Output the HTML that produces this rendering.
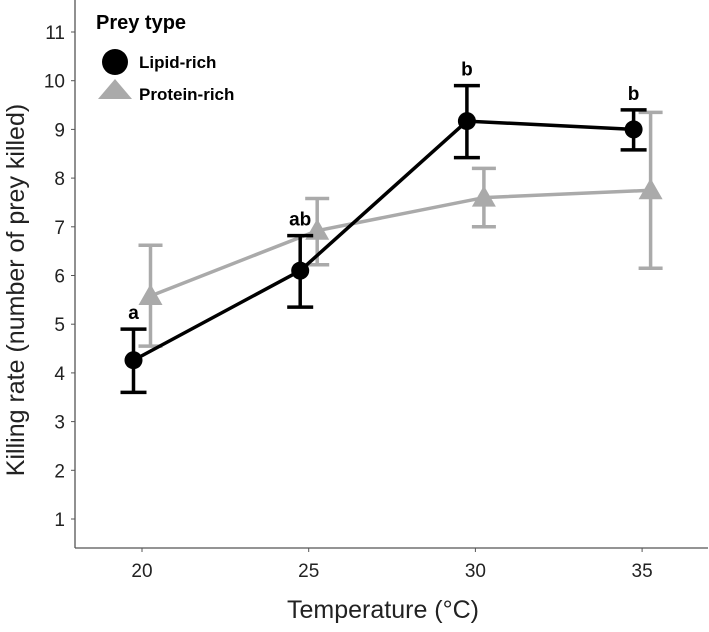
<!DOCTYPE html>
<html><head><meta charset="utf-8"><style>
body{margin:0;background:#fff;}
svg{display:block;font-family:"Liberation Sans",Arial,sans-serif;}
</style></head><body>
<svg id="chart" width="709" height="632">
<g id="axes"></g><g id="marks"></g><g id="legend"></g>
</svg>
<script>
const categories=[20,25,30,35];
const yTicks=[1,2,3,4,5,6,7,8,9,10,11];
const lipidMean=[4.26,6.1,9.17,9.0];
const lipidLow=[3.6,5.35,8.42,8.58];
const lipidHigh=[4.9,6.82,9.9,9.4];
const proteinMean=[5.58,6.92,7.6,7.75];
const proteinLow=[4.55,6.22,7.0,6.15];
const proteinHigh=[6.62,7.58,8.2,9.35];
const letters=["a","ab","b","b"];

const NS="http://www.w3.org/2000/svg";
function x(i){return 142+166.7*i;}
function y(v){return 519-48.7*(v-1);}
function mk(tag,at,parent,txt){const e=document.createElementNS(NS,tag);for(const k in at)e.setAttribute(k,at[k]);if(txt!==undefined)e.textContent=txt;parent.appendChild(e);return e;}
const axes=document.getElementById('axes'),marks=document.getElementById('marks'),legend=document.getElementById('legend');
let e;
e=mk('line',{x1:75,y1:0,x2:75,y2:548,stroke:'#555','stroke-width':1.3},axes);


e=mk('line',{x1:75,y1:548,x2:708,y2:548,stroke:'#555','stroke-width':1.3},axes);


yTicks.forEach(v=>{
 mk('line',{x1:71,y1:y(v),x2:75,y2:y(v),stroke:'#555'},axes);
 e=mk('text',{x:65,y:y(v)+7,'text-anchor':'end','font-size':19,fill:'#222'},axes,v);
 
 
});
categories.forEach((c,i)=>{
 mk('line',{x1:x(i),y1:548,x2:x(i),y2:552,stroke:'#555'},axes);
 e=mk('text',{x:x(i),y:577,'text-anchor':'middle','font-size':19,fill:'#222'},axes,c);
 
 
});
e=mk('text',{x:383,y:618,'text-anchor':'middle','font-size':25,fill:'#222'},axes,'Temperature (°C)');


e=mk('text',{x:0,y:0,transform:'translate(24,290) rotate(-90)','text-anchor':'middle','font-size':25,fill:'#222'},axes,'Killing rate (number of prey killed)');



function series(mean,lo,hi,off,col,name,tri,cap){
 const pts=mean.map((m,i)=>(x(i)+off)+','+y(m)).join(' ');
 e=mk('polyline',{points:pts,fill:'none',stroke:col,'stroke-width':3.5},marks);
 
 
 mean.forEach((m,i)=>{
  const cx=x(i)+off;
  const g=mk('g',{},marks);
  
  
  mk('line',{x1:cx,y1:y(lo[i]),x2:cx,y2:y(hi[i]),stroke:col,'stroke-width':3.5},g);
  mk('line',{x1:cx-cap,y1:y(lo[i]),x2:cx+cap,y2:y(lo[i]),stroke:col,'stroke-width':3.5},g);
  mk('line',{x1:cx-cap,y1:y(hi[i]),x2:cx+cap,y2:y(hi[i]),stroke:col,'stroke-width':3.5},g);
  let p;
  if(tri){const cy=y(m);p=mk('polygon',{points:`${cx},${cy-12} ${cx-12},${cy+9} ${cx+12},${cy+9}`,fill:col},marks);}
  else p=mk('circle',{cx:cx,cy:y(m),r:9,fill:col},marks);
  
  
 });
}
series(proteinMean,proteinLow,proteinHigh,8.5,'#aaaaaa','protein-rich',true,12);
series(lipidMean,lipidLow,lipidHigh,-8.5,'#000','lipid-rich',false,13);
letters.forEach((l,i)=>{
 e=mk('text',{x:x(i)-8.5,y:y(lipidHigh[i])-10,'text-anchor':'middle','font-size':19,'font-weight':'bold'},marks,l);
 
 
});
e=mk('text',{x:96,y:29,'font-size':20,'font-weight':'bold'},legend,'Prey type');


e=mk('circle',{cx:115,cy:62,r:13,fill:'#000'},legend);


e=mk('polygon',{points:'115,79 98,99 132,99',fill:'#aaa'},legend);


e=mk('text',{x:139,y:68,'font-size':17,'font-weight':'bold'},legend,'Lipid-rich');


e=mk('text',{x:139,y:100,'font-size':17,'font-weight':'bold'},legend,'Protein-rich');


</script>
</body></html>
